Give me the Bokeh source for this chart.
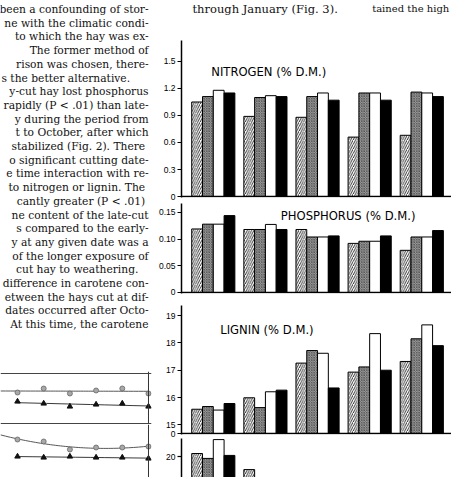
import numpy as np
from bokeh.plotting import figure
from bokeh.layouts import row, column
from bokeh.models import Range1d, FixedTicker, Span, Label, ColumnDataSource
from bokeh.embed import file_html
from bokeh.resources import INLINE
from bokeh.core.properties import value

# ---------------- data ----------------
sampling_dates = [0, 1, 2, 3, 4]          # five sampling dates (x groups)
cuttings = ["Cut 1", "Cut 2", "Cut 3", "Cut 4"]

nitrogen_cut1 = [1.05, 0.89, 0.88, 0.66, 0.68]
nitrogen_cut2 = [1.11, 1.10, 1.11, 1.15, 1.16]
nitrogen_cut3 = [1.18, 1.12, 1.15, 1.15, 1.15]
nitrogen_cut4 = [1.15, 1.11, 1.07, 1.07, 1.11]

phosphorus_cut1 = [0.119, 0.118, 0.118, 0.092, 0.079]
phosphorus_cut2 = [0.128, 0.118, 0.104, 0.096, 0.104]
phosphorus_cut3 = [0.128, 0.1275, 0.104, 0.096, 0.104]
phosphorus_cut4 = [0.144, 0.118, 0.106, 0.106, 0.116]

lignin_cut1 = [15.57, 15.99, 17.26, 16.93, 17.32]
lignin_cut2 = [15.67, 15.63, 17.72, 17.12, 18.15]
lignin_cut3 = [15.54, 16.21, 17.62, 18.34, 18.66]
lignin_cut4 = [15.78, 16.27, 16.35, 17.00, 17.90]

carotene_cut1 = [20.11, 19.52, 17.0, 16.2, 15.5]
carotene_cut2 = [19.93, 18.7, 16.6, 15.8, 15.2]
carotene_cut3 = [20.62, 18.9, 17.2, 16.5, 15.9]
carotene_cut4 = [20.04, 18.5, 16.4, 15.6, 15.0]

nitrogen_ticks = [0, 0.3, 0.6, 0.9, 1.2, 1.5]
nitrogen_labels = ["0", "0.3", "0.6", "0.9", "1.2", "1.5"]
phosphorus_ticks = [0, 0.05, 0.10, 0.15]
phosphorus_labels = ["0", "0.05", "0.10", "0.15"]
lignin_base = 14.68
lignin_ticks = [lignin_base, 15, 16, 17, 18, 19]
lignin_labels = ["0", "15", "16", "17", "18", "19"]
carotene_ticks = [20]
carotene_labels = ["20"]

# small line chart (Fig. 2 fragment)
fig2_x = [0, 1, 2, 3, 4, 5]
fig2_top_circles = [3.1, 3.5, 3.0, 3.3, 3.5, 3.0]
fig2_top_triangles = [2.2, 2.0, 1.7, 1.9, 2.0, 1.7]
fig2_bot_circles = [3.8, 3.6, 2.8, 3.0, 3.0, 3.1]
fig2_bot_triangles = [2.1, 2.0, 2.1, 2.0, 2.0, 1.9]

left_text = [
    "been a confounding of stor-",
    "ne with the climatic condi-",
    "to which the hay was ex-",
    "The former method of",
    "rison was chosen, there-",
    "s the better alternative.",
    "y-cut hay lost phosphorus",
    "rapidly (P < .01) than late-",
    "y during the period from",
    "t to October, after which",
    "stabilized (Fig. 2).  There",
    "o significant cutting date-",
    "e time interaction with re-",
    "to nitrogen or lignin.  The",
    "cantly greater  (P < .01)",
    "ne content of the late-cut",
    "s compared to the early-",
    "y at any given date was a",
    "of the longer exposure of",
    "cut  hay  to  weathering.",
    "difference in carotene con-",
    "etween the hays cut at dif-",
    "dates occurred after Octo-",
    "At this time, the carotene",
]
left_text_left_aligned = [5]

header_left = "through January (Fig. 3)."
header_right = "tained the high"

# ---------------- styles ----------------
SERIF = value("DejaVu Serif")
TICKFONT = "Liberation Sans"
TITLEFONT = "DejaVu Sans"

bar_styles = [
    dict(fill_color="white", hatch_pattern="/", hatch_color="black", hatch_scale=4.5,
         hatch_weight=0.8, line_color="black", line_width=1),
    dict(fill_color="#9c9c9c", hatch_pattern="x", hatch_color="#2a2a2a", hatch_scale=2.5,
         hatch_weight=0.5, line_color="black", line_width=1),
    dict(fill_color="white", line_color="black", line_width=1),
    dict(fill_color="black", line_color="black", line_width=1),
]
BAR_W = 0.207
XR = (-0.61, 4.57)


def clean(p):
    p.grid.visible = False
    p.outline_line_color = None
    p.background_fill_color = "white"
    p.border_fill_color = "white"
    return p


def bar_panel(height, top_border, bottom_border, yr, cut_values, bottom, ticks, labels,
              title=None, title_xy=None):
    p = figure(width=296, height=height, x_range=Range1d(*XR), y_range=Range1d(*yr),
               output_backend="svg", toolbar_location=None, x_axis_location=None,
               min_border_left=24, min_border_right=0, min_border_top=top_border,
               min_border_bottom=bottom_border)
    clean(p)
    g = np.array(sampling_dates, dtype=float)
    for j, vals in enumerate(cut_values):
        p.vbar(x=g + (j - 1.5) * BAR_W, top=vals, bottom=bottom, width=BAR_W, **bar_styles[j])
    ax = p.yaxis[0]
    ax.ticker = FixedTicker(ticks=ticks)
    ax.major_label_overrides = {t: l for t, l in zip(ticks, labels)}
    ax.axis_line_width = 1.5
    ax.axis_line_color = "black"
    ax.major_tick_out = 4
    ax.major_tick_in = 0
    ax.major_tick_line_width = 1.2
    ax.minor_tick_out = 0
    ax.minor_tick_in = 0
    ax.major_label_standoff = 2
    ax.major_label_text_font = TICKFONT
    ax.major_label_text_font_size = "8.5px"
    ax.major_label_text_color = "black"
    if bottom > yr[0]:
        p.add_layout(Span(location=bottom, dimension="width", line_color="black", line_width=1.5))
    if title:
        p.add_layout(Label(x=title_xy[0], y=title_xy[1], text=title, text_font=TITLEFONT,
                           text_font_size="11.6px", text_baseline="middle", text_color="black"))
    return p


nit = bar_panel(171, 8, 6, (-0.011, 1.733),
                [nitrogen_cut1, nitrogen_cut2, nitrogen_cut3, nitrogen_cut4], 0,
                nitrogen_ticks, nitrogen_labels, "NITROGEN (% D.M.)", (-0.04, 1.378))
phos = bar_panel(93, 0, 3, (-0.0019, 0.1667),
                 [phosphorus_cut1, phosphorus_cut2, phosphorus_cut3, phosphorus_cut4], 0,
                 phosphorus_ticks, phosphorus_labels, "PHOSPHORUS (% D.M.)", (1.295, 0.144))
lig = bar_panel(142, 9, 4, (14.645, 19.37),
                [lignin_cut1, lignin_cut2, lignin_cut3, lignin_cut4], lignin_base,
                lignin_ticks, lignin_labels, "LIGNIN (% D.M.)", (0.133, 18.49))
car = bar_panel(39, 0, 0, (19.23, 20.66),
                [carotene_cut1, carotene_cut2, carotene_cut3, carotene_cut4], 10,
                carotene_ticks, carotene_labels)

# header text strip above the bar chart
head = figure(width=296, height=32, x_range=Range1d(155, 451), y_range=Range1d(32, 0),
              output_backend="svg", toolbar_location=None, x_axis_location=None,
              y_axis_location=None, min_border=0)
clean(head)
head.add_layout(Label(x=167, y=8, text=header_left, text_font="DejaVu Serif",
                      text_font_size="11.5px", text_baseline="middle", text_color="#111"))
head.add_layout(Label(x=364, y=8, text=header_right, text_font="DejaVu Serif",
                      text_font_size="10px", text_baseline="middle", text_color="#111"))

# left column of body text
txt = figure(width=155, height=371, x_range=Range1d(0, 155), y_range=Range1d(371, 0),
             output_backend="svg", toolbar_location=None, x_axis_location=None,
             y_axis_location=None, min_border=0)
clean(txt)
idx = np.arange(len(left_text))
right_idx = [i for i in idx if i not in left_text_left_aligned]
src_r = ColumnDataSource(dict(x=[152] * len(right_idx), y=[9 + 13.7 * i for i in right_idx],
                              t=[left_text[i] for i in right_idx]))
src_l = ColumnDataSource(dict(x=[1] * len(left_text_left_aligned),
                              y=[9 + 13.7 * i for i in left_text_left_aligned],
                              t=[left_text[i] for i in left_text_left_aligned]))
txt.text(x="x", y="y", text="t", source=src_r, text_align="right", text_baseline="middle",
         text_font=SERIF, text_font_size="10.7px", text_color="#111")
txt.text(x="x", y="y", text="t", source=src_l, text_align="left", text_baseline="middle",
         text_font=SERIF, text_font_size="10.7px", text_color="#111")


def line_panel(height, yr, circles, triangles, top_line, circle_deg, circ_from_edge):
    p = figure(width=155, height=height, x_range=Range1d(-0.649, 5.115), y_range=Range1d(*yr),
               output_backend="svg", toolbar_location=None, x_axis_location=None,
               y_axis_location=None, min_border=0, min_border_right=4)
    clean(p)
    x = np.array(fig2_x, dtype=float)
    xs_c = np.linspace(-0.649 if circ_from_edge else 0, 5, 60)
    cc = np.polyfit(x, circles, circle_deg)
    p.line(xs_c, np.polyval(cc, xs_c), line_color="#444", line_width=0.9)
    ct = np.polyfit(x, triangles, 1)
    xs_t = np.linspace(0, 5, 10)
    p.line(xs_t, np.polyval(ct, xs_t), line_color="#222", line_width=0.9)
    p.scatter(x, circles, marker="circle", size=5, fill_color="#a8a8a8", line_color="#666",
              line_width=0.8)
    p.scatter(x, triangles, marker="triangle", size=5.5, fill_color="#111", line_color="#111")
    p.add_layout(Span(location=5, dimension="height", line_color="#333", line_width=1))
    if top_line is not None:
        p.add_layout(Span(location=top_line, dimension="width", line_color="#444", line_width=1))
    return p


l_top = line_panel(53, (-0.1, 5.2), fig2_top_circles, fig2_top_triangles, 5.0, 1, True)
l_top.add_layout(Span(location=0, dimension="width", line_color="#444", line_width=1))
l_bot = line_panel(53, (0, 5.3), fig2_bot_circles, fig2_bot_triangles, None, 2, True)

left_col = column(txt, l_top, l_bot, spacing=0)
right_col = column(head, nit, phos, lig, car, spacing=0)
root = row(left_col, right_col, spacing=0)

open("out.html", "w").write(file_html(root, INLINE))
